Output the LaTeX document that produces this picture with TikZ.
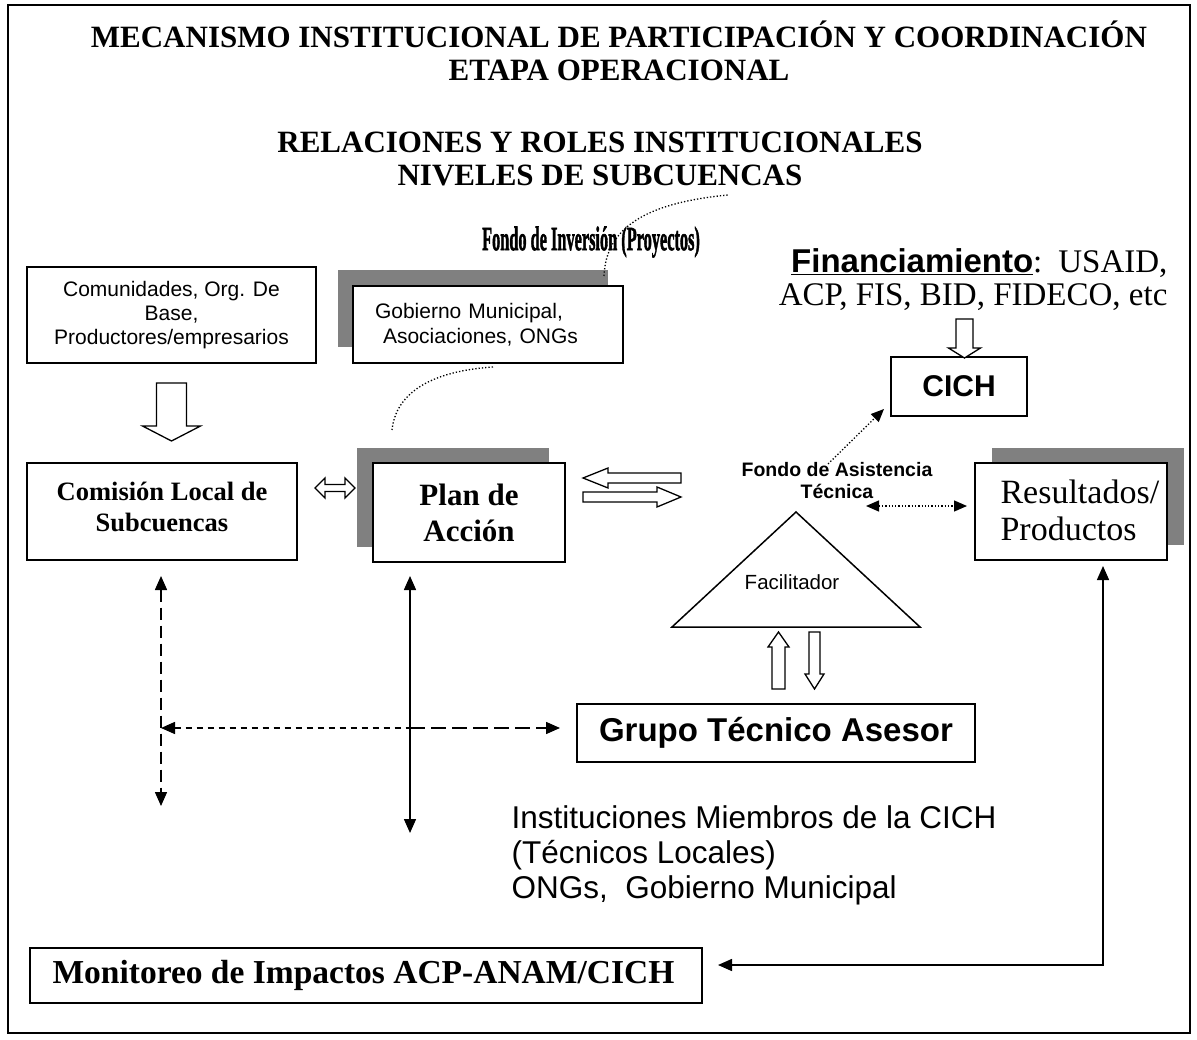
\documentclass[tikz,border=0pt]{standalone}
\usepackage{fontspec}
\setmainfont{Liberation Serif}
\setsansfont{Liberation Sans}
\newfontfamily\heavyserif{Liberation Serif}[BoldFeatures={FakeBold=2}]
\usetikzlibrary{arrows.meta,shadows}
\definecolor{shadowgray}{RGB}{128,128,128}

% block arrow: tail, angle, length, head length, half shaft, half head
\newcommand{\hollowarrow}[6]{%
  \draw[hollow,shift={#1},rotate=#2] (0,-#5) -- (#3-#4,-#5) -- (#3-#4,-#6) -- (#3,0)
    -- (#3-#4,#6) -- (#3-#4,#5) -- (0,#5) -- cycle;}

\begin{document}
\begin{tikzpicture}[x=1pt,y=-1pt,
  box/.style={draw,line width=2pt,fill=white,inner sep=0pt,align=center},
  shadowed/.style n args={2}{drop shadow={shadow xshift=#1,shadow yshift=#2,opacity=1,fill=shadowgray}},
  hollow/.style={draw,fill=white,line width=1.3pt},
  link/.style={line width=1.5pt,{Triangle[length=14pt,width=12pt]}-{Triangle[length=14pt,width=12pt]}},
  dotline/.style={line width=1.3pt,dash pattern=on 1.3pt off 2pt},
  heading/.style={font=\bfseries\fontsize{31}{33}\selectfont,align=center}]
\useasboundingbox (0,0) rectangle (1197,1040);
\draw[line width=1.5pt] (8,5) rectangle (1190,1033);

% titles
\node[heading] (title) at (619,51) {MECANISMO INSTITUCIONAL DE PARTICIPACIÓN Y COORDINACIÓN\\ETAPA OPERACIONAL};
\node[heading] (subtitle) at (600,159) {RELACIONES Y ROLES INSTITUCIONALES\\NIVELES DE SUBCUENCAS};
\node[font=\heavyserif\bfseries\fontsize{34}{34}\selectfont] (inversion) at (591,242) {\scalebox{0.48}[1]{Fondo de Inversión (Proyectos)}};
\node[anchor=east,align=right,font=\fontsize{33}{33}\selectfont] (financ) at (1171,280)
  {{\sffamily\bfseries\fontsize{33}{33}\selectfont\underline{Financiamiento}}:\hspace{16pt}USAID,\\ACP, FIS, BID, FIDECO, etc};

% boxes
\node[box,font=\sffamily\fontsize{21}{24}\selectfont,minimum width=289pt,minimum height=96pt] (comun) at (171.5,315)
  {Comunidades, Org. De\\Base,\\Productores/empresarios};
\node[box,shadowed={-15pt}{16pt},font=\sffamily\fontsize{21}{25}\selectfont,minimum height=77pt,text width=226pt,inner xsep=22pt,align=left] (gob) at (488,324.5)
  {Gobierno Municipal,\\\hspace*{8pt}Asociaciones, ONGs};
\node[box,minimum width=270pt,minimum height=97pt] (comis) at (162,511.5) {};
\node[font=\bfseries\fontsize{26.5}{31}\selectfont,align=center] (comistext) at (162,507) {Comisión Local de\\Subcuencas};
\node[box,shadowed={-16pt}{15pt},font=\bfseries\fontsize{31}{36}\selectfont,minimum width=192pt,minimum height=99pt] (plan) at (469,512.5)
  {Plan de\\Acción};
\node[box,shadowed={17pt}{15pt},minimum width=192pt,minimum height=97pt] (result) at (1071,511.5) {};
\node[anchor=west,font=\fontsize{34}{37}\selectfont,align=left] (resulttext) at (997,510) {Resultados/\\Productos};
\node[box,font=\sffamily\bfseries\fontsize{30}{30}\selectfont,minimum width=136pt,minimum height=59pt] (cich) at (959,386.5) {CICH};
\node[box,font=\sffamily\bfseries\fontsize{33}{33}\selectfont,minimum width=398pt,minimum height=58pt] (grupo) at (776,733) {Grupo Técnico Asesor};
\node[box,minimum width=672pt,minimum height=55pt] (monitor) at (366,975.5) {};
\node[anchor=west,font=\bfseries\fontsize{33.5}{33}\selectfont] (monitortext) at (49,975.5) {Monitoreo de Impactos ACP-ANAM/CICH};

% facilitador
\coordinate (apex) at (796,512);
\coordinate (baseleft) at (672,627);
\coordinate (baseright) at (920,627);
\draw[line width=1.5pt] (apex) -- (baseright) -- (baseleft) -- cycle;
\node[font=\sffamily\fontsize{20.5}{24}\selectfont] (facil) at (792,582) {Facilitador};
\node[font=\sffamily\bfseries\fontsize{19.5}{22}\selectfont,align=center] (asist) at (837,481) {Fondo de Asistencia\\Técnica};
\node[anchor=west,align=left,font=\sffamily\fontsize{31.5}{35}\selectfont] (inst) at (508,855)
  {Instituciones Miembros de la CICH\\(Técnicos Locales)\\ONGs,~ Gobierno Municipal};

% block arrows
\hollowarrow{([yshift=-19pt]comun.south)}{-90}{58}{15}{15}{29}
\draw[hollow,shift={(315,488)}] (0,0) -- (10,-10) -- (10,-3.5) -- (30,-3.5) -- (30,-10) -- (40,0)
  -- (30,10) -- (30,3.5) -- (10,3.5) -- (10,10) -- cycle;
\hollowarrow{(681,478)}{180}{98}{25}{5}{10}
\hollowarrow{(583,497)}{0}{98}{24}{5}{10}
\hollowarrow{(964.5,319)}{-90}{39}{10}{8.5}{16}
\hollowarrow{(778.5,689)}{90}{57}{15}{6.5}{10.5}
\hollowarrow{(814.5,632)}{-90}{57}{15}{5.5}{9.5}

% dotted links
\coordinate (planlink) at (392,430);
\coordinate (inverlink) at (728,195);
\draw[dotline] ([xshift=5pt,yshift=-3pt]gob.south) .. controls (420,372) and (395,400) .. (planlink);
\draw[dotline] (604,276) .. controls (606,228) and (645,203) .. (inverlink);
\draw[dotline,-{Triangle[length=13pt,width=11pt]}] (828,464) -- ([xshift=-6pt,yshift=8pt]cich.south west);
\draw[dotline,{Triangle[length=13pt,width=11pt]}-{Triangle[length=13pt,width=11pt]}] (866,506) -- ([xshift=-7pt,yshift=5.5pt]result.west);

% relations
\draw[link,dash pattern=on 12pt off 6pt] ([xshift=-1pt,yshift=-15pt]comis.south) -- ++(0,230);
\draw[link] ([xshift=-59pt,yshift=-13pt]plan.south) -- ++(0,257);
\draw[line width=1.5pt,dash pattern=on 6pt off 5pt,{Triangle[length=14pt,width=12pt]}-] (161,728) -- (410,728);
\draw[line width=1.5pt,dash pattern=on 15pt off 6pt,-{Triangle[length=14pt,width=12pt]}] (410,728) -- ([xshift=-16pt,yshift=5pt]grupo.west);
\draw[link] ([xshift=15pt,yshift=10.5pt]monitor.east) -| ([xshift=32pt,yshift=-5pt]result.south);
\end{tikzpicture}
\end{document}
